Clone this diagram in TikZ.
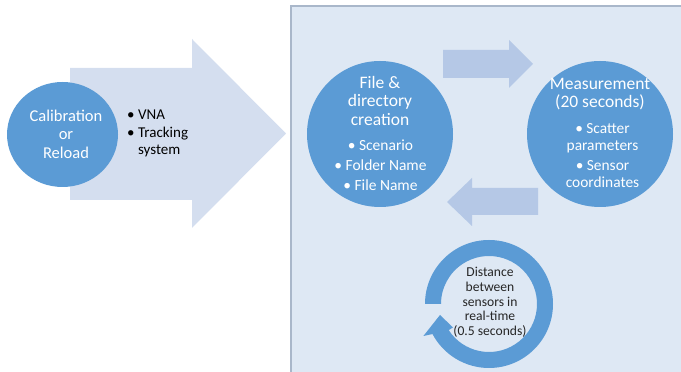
\documentclass[tikz,border=0pt]{standalone}
\usepackage{fontspec}
\setmainfont{Carlito}
\usetikzlibrary{shapes.geometric,calc}
\definecolor{panelfill}{HTML}{DEE8F4}
\definecolor{panelline}{HTML}{A9B7CA}
\definecolor{bigarrow}{HTML}{D4DEEF}
\definecolor{smallarrow}{HTML}{B5C8E6}
\definecolor{stageblue}{HTML}{5B9BD5}
\definecolor{darktext}{HTML}{262626}
\tikzset{
  stage/.style={circle, fill=stageblue, draw=none, inner sep=0pt, minimum size=146pt},
  titletext/.style={text=white, align=center, inner sep=0pt, font=\fontsize{17.5}{18.5}\selectfont},
  itemtext/.style={text=white, align=center, inner sep=0pt, font=\fontsize{15.4}{17}\selectfont},
  sidetext/.style={text=black, align=left, inner sep=0pt, font=\fontsize{15}{17.5}\selectfont},
  loopnote/.style={text=darktext, align=center, inner sep=0pt, font=\fontsize{13.6}{14.7}\selectfont},
  flowarrow/.style={fill=smallarrow, draw=none},
}
\begin{document}
\begin{tikzpicture}[x=1pt, y=1pt]
\useasboundingbox (0,0) rectangle (681,372);

% light panel holding the measurement loop
\filldraw[fill=panelfill, draw=panelline, line width=1.2pt] (291,366) rectangle (700,-20);

% large arrow into the panel
\fill[bigarrow] (70,304) -- (192,304) -- (192,333) -- (286,238.5)
  -- (192,144) -- (192,172) -- (70,172) -- cycle;

% calibration stage
\node[ellipse, fill=stageblue, draw=none, minimum width=111pt, minimum height=105pt,
      inner sep=0pt] (calib) at (62.5,237.5) {};
\node[text=white, align=center, inner sep=0pt, font=\fontsize{16.5}{18.5}\selectfont]
  (calibtext) at (66,238) {Calibration\\or\\Reload};
\node[sidetext, anchor=west] (calibitems) at (127,238.5)
  {• VNA\\• Tracking\\\phantom{• }system};

% file stage and measurement stage
\node[stage] (filestage) at (380,238) {};
\node[titletext] (filetitle) at (380,271.5) {File \&\\directory\\creation};
\node[itemtext, font=\fontsize{15.5}{20}\selectfont] (fileitems) at (380.5,207)
  {• Scenario\\• Folder Name\\• File Name};

\node[stage] (measstage) at (600,238) {};
\node[titletext] (meastitle) at (600,278) {Measurement\\(20 seconds)};
\node[itemtext] (measitems) at (602.5,216.5)
  {• Scatter\\parameters\\[3.5pt]• Sensor\\coordinates};

% arrows between the two stages
\fill[flowarrow] (443,322) -- (509,322) -- (509,332) -- (533,308)
  -- (509,284) -- (509,294) -- (443,294) -- cycle;
\fill[flowarrow] (538,184) -- (472,184) -- (472,194) -- (447,170)
  -- (472,146) -- (472,157) -- (538,157) -- cycle;

% real-time loop: ring running clockwise from the left, pointed end at lower left
\coordinate (loopc) at (489,68);
\coordinate (looptip) at (440,57);
\fill[stageblue]
  ($(loopc)+(180:64)$) arc[start angle=180, end angle=-152, radius=64]
  -- ($(loopc)+(206:73)$) -- (looptip) -- ($(loopc)+(213:43)$)
  -- ($(loopc)+(213:48)$) arc[start angle=-147, end angle=180, radius=48]
  -- cycle;
\node[loopnote] (looptext) at (490,69.5)
  {Distance\\between\\sensors in\\real-time\\(0.5 seconds)};
\end{tikzpicture}
\end{document}
